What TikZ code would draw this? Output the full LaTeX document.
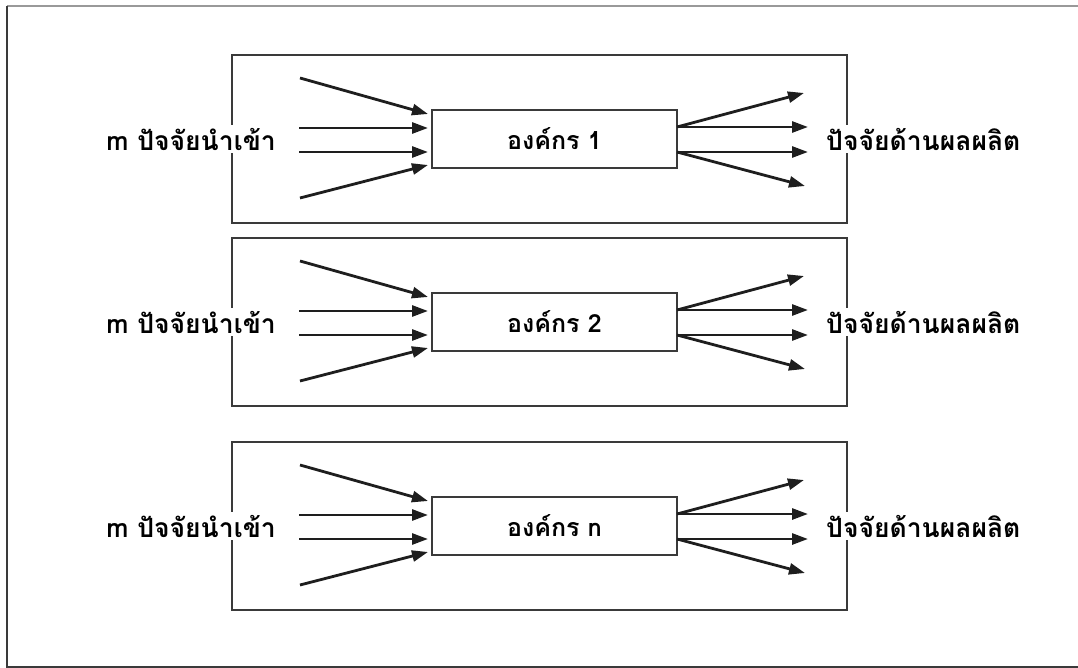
\documentclass[tikz,border=0pt]{standalone}
\usepackage{fontspec}
\usetikzlibrary{arrows.meta,calc}
\newfontfamily\thai[Script=Thai]{Loma}
\definecolor{frame}{HTML}{3A3A3A}
\definecolor{ink}{HTML}{1E1E1E}
\begin{document}
\begin{tikzpicture}[x=1pt,y=-1pt,
  panel/.style={draw=frame,line width=1.5pt},
  orgbox/.style={draw=frame,line width=1.4pt,minimum width=245pt,minimum height=58pt,inner sep=0pt,font=\thai\bfseries\fontsize{25}{28}\selectfont},
  lbl/.style={fill=white,inner sep=3pt,font=\thai\bfseries\fontsize{26.5}{30}\selectfont},
  flow/.style={draw=ink,line width=2.8pt,-{Triangle[length=16pt,width=11pt]}}]
\useasboundingbox (0,0) rectangle (1078,668);
% surrounding frame (right edge runs off the page)
\draw[draw=gray!80,line width=1.5pt] (1085,6) -- (7,6);
\draw[draw=frame,line width=1.5pt] (7,6) -- (7,667) -- (1085,667);
\foreach \i/\c/\t in {1/139/1, 2/322/2, 3/526/n}{
  \draw[panel] (232,\c-84) rectangle (847,\c+84);
  \node[orgbox] (org\i) at (554.5,\c) {องค์กร \t};
  \node[lbl,anchor=east] (in\i) at (279,\c) {m ปัจจัยนำเข้า};
  \node[lbl,anchor=west] (out\i) at (823,\c) {ปัจจัยด้านผลผลิต};
  % input arrows
  \coordinate (a\i1) at (300,\c-61);
  \coordinate (a\i2) at (299,\c-11);
  \coordinate (a\i3) at (299,\c+13);
  \coordinate (a\i4) at (300,\c+59);
  \coordinate (b\i1) at (428,\c-25);
  \coordinate (b\i2) at (428,\c-11);
  \coordinate (b\i3) at (428,\c+13);
  \coordinate (b\i4) at (428,\c+26);
  \foreach \k in {1,2,3,4}{\draw[flow] (a\i\k) -- (b\i\k);}
  % output arrows
  \coordinate (s\i1) at (677,\c-12);
  \coordinate (s\i2) at (677,\c+13);
  \coordinate (e\i1) at (804,\c-46);
  \coordinate (e\i2) at (808,\c-12);
  \coordinate (e\i3) at (808,\c+13);
  \coordinate (e\i4) at (805,\c+47);
  \draw[flow] (s\i1) -- (e\i1);
  \draw[flow] (s\i1) -- (e\i2);
  \draw[flow] (s\i2) -- (e\i3);
  \draw[flow] (s\i2) -- (e\i4);
}
\end{tikzpicture}
\end{document}
